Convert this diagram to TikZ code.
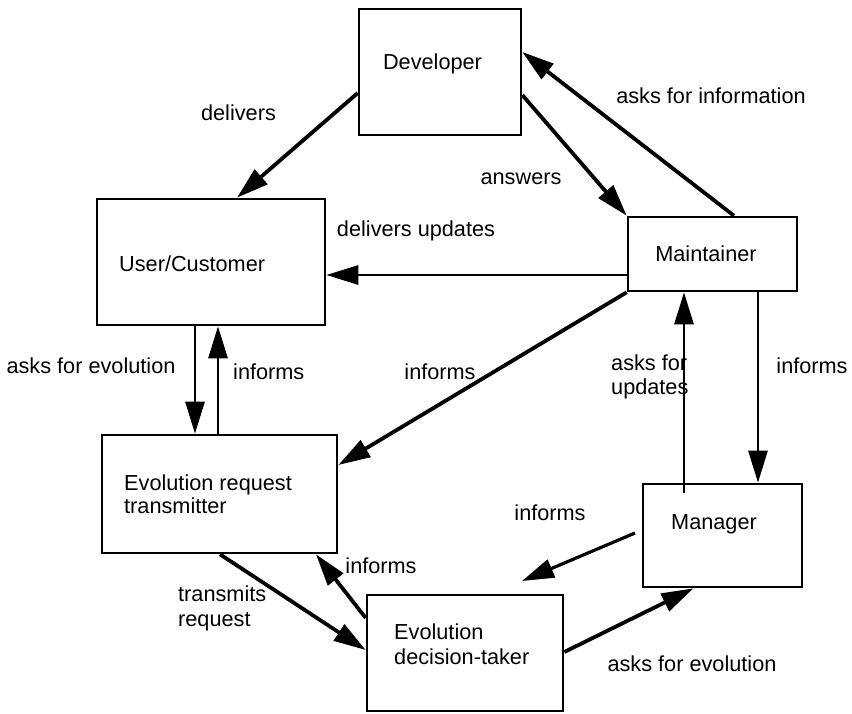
\documentclass[tikz,border=0pt]{standalone}
\usepackage{fontspec}
\setmainfont{Liberation Sans}
\usetikzlibrary{arrows.meta,calc}
\begin{document}
\begin{tikzpicture}[x=1pt,y=-1pt,
  box/.style={draw, line width=2.6pt, inner sep=0pt},
  txt/.style={font=\fontsize{21.7}{24}\selectfont, inner sep=0pt},
  ltxt/.style={txt, anchor=west, align=left},
  conn/.style={line width=2.8pt, -{Triangle[length=32pt,width=19pt]}},
  heavy/.style={conn, line width=3.8pt},
  medium/.style={conn, line width=3.2pt}]
\useasboundingbox (0,0) rectangle (852,713);
\fill[white] (0,0) rectangle (852,713);

% actors
\node[box, minimum width=162pt, minimum height=126pt] (dev) at (440,72) {};
\node[box, minimum width=228pt, minimum height=126pt] (uc)  at (211,262) {};
\node[box, minimum width=169pt, minimum height=74pt]  (mnt) at (712.5,254) {};
\node[box, minimum width=235pt, minimum height=118pt] (ert) at (219.5,494) {};
\node[box, minimum width=159pt, minimum height=103pt] (mgr) at (722.5,535.5) {};
\node[box, minimum width=196pt, minimum height=116pt] (edt) at (465,653) {};

% actor names
\node[txt] (devname) at (432.5,64) {Developer};
\node[txt] (mntname) at (706,254) {Maintainer};
\node[ltxt] (mgrname) at (671,524) {Manager};
\node[ltxt] (ucname) at (119,264) {User/Customer};
\node[ltxt, font=\fontsize{21.7}{23.3}\selectfont] (ertname) at (124,494) {Evolution request\\transmitter};
\node[ltxt, font=\fontsize{21.7}{25}\selectfont] (edtname) at (394,644) {Evolution\\decision-taker};

% free ends of the manager's message to the decision-taker
\coordinate (mgrout) at (635,533);
\coordinate (edtin) at (522,581);
% the request for updates starts just inside the manager box
\coordinate (mgrup) at ($(mgr.north)+(-38.5,10)$);

% flows
\draw[heavy] ($(dev.west)+(0,21)$) -- ($(uc.north)+(26,0)$);
\draw[heavy] ($(dev.east)+(0,23)$) -- (mnt.north west);
\draw[heavy] ($(mnt.north)+(21.5,0)$) -- ($(dev.east)+(0,-20)$);
\draw[conn]  ($(mnt.west)+(0,21)$) -- ($(uc.east)+(0,13)$);
\draw[heavy] (mnt.south west) -- ($(ert.east)+(0,-29)$);
\draw[conn]  ($(uc.south)+(-16,0)$) -- ($(ert.north)+(-24.5,0)$);
\draw[conn]  ($(ert.north)+(-1.5,0)$) -- ($(uc.south)+(7,0)$);
\draw[conn]  (mgrup) -- ($(mnt.south)+(-28.5,0)$);
\draw[conn]  ($(mnt.south)+(45.5,0)$) -- ($(mgr.north)+(35.5,0)$);
\draw[heavy] ($(ert.south)+(0.5,0)$) -- ($(edt.west)+(0,-3)$);
\draw[heavy] ($(edt.west)+(0,-35)$) -- ($(ert.south)+(96.5,0)$);
\draw[medium] (mgrout) -- (edtin);
\draw[heavy] ($(edt.east)+(0,-1)$) -- ($(mgr.south)+(-29,0)$);

% flow labels
\node[txt] (l1) at (238.5,113) {delivers};
\node[txt] (l2) at (521,179) {answers};
\node[txt] (l3) at (711,96) {asks for information};
\node[txt] (l4) at (416,231) {delivers updates};
\node[txt] (l5) at (91,366) {asks for evolution};
\node[ltxt] (l6) at (233,372) {informs};
\node[txt] (l7) at (440,372) {informs};
\node[ltxt, font=\fontsize{21.7}{23.3}\selectfont] (l8) at (611,377) {asks for\\updates};
\node[txt] (l9) at (812,366) {informs};
\node[txt] (l10) at (550,513) {informs};
\node[txt] (l11) at (381,566) {informs};
\node[ltxt, font=\fontsize{21.7}{25}\selectfont] (l12) at (178,608) {transmits\\request};
\node[txt] (l13) at (692,664) {asks for evolution};
\end{tikzpicture}
\end{document}
